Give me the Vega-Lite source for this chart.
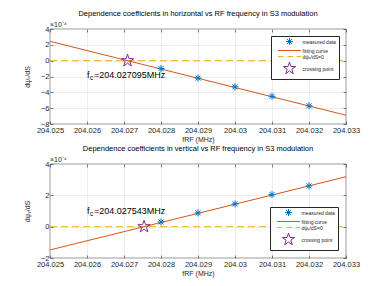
{
  "$schema": "https://vega.github.io/schema/vega-lite/v6.json",
  "background": "white",
  "padding": {"left": 23, "top": 9, "right": 5, "bottom": 5},
  "spacing": 40,
  "bounds": "flush",
  "config": {
    "font": "Liberation Sans",
    "view": {"stroke": "#262626", "strokeWidth": 0.6},
    "axis": {
      "labelFontSize": 7.5,
      "labelColor": "#262626",
      "labelFlush": false,
      "labelOverlap": false,
      "titleFontSize": 7,
      "titleFontWeight": "normal",
      "titleColor": "#262626",
      "gridColor": "#e3e3e3",
      "gridWidth": 0.6,
      "domain": false,
      "tickColor": "#262626",
      "tickWidth": 0.6,
      "tickSize": -3,
      "labelPadding": 4
    },
    "title": {"fontSize": 7.5, "fontWeight": "normal", "color": "#000000", "offset": 4},
    "legend": {
      "labelFontSize": 5,
      "labelColor": "#262626",
      "fillColor": "white",
      "strokeColor": "#262626",
      "padding": 2.5,
      "rowPadding": 0,
      "symbolStrokeWidth": 1,
      "symbolSize": 25,
      "symbolOffset": 13,
      "labelOffset": 10
    }
  },
  "vconcat": [
    {
      "width": 296,
      "height": 95,
      "title": {"text": "Dependence coefficients in horizontal vs RF frequency in S3 modulation"},
      "resolve": {"axis": {"x": "independent", "y": "independent"}},
      "encoding": {
        "x": {"field": "f", "type": "quantitative", "scale": {"domain": [204.025, 204.033], "nice": false, "zero": false}, "axis": null},
        "y": {"field": "v", "type": "quantitative", "scale": {"domain": [-8, 4], "nice": false, "zero": false}, "axis": null}
      },
      "layer": [
        {
          "data": {"values": [{"f": 204.025, "v": 0}, {"f": 204.033, "v": 0}]},
          "mark": {"type": "line", "color": "#EDB120", "strokeWidth": 1, "strokeDash": [7, 4]},
          "encoding": {
            "x": {"field": "f", "type": "quantitative", "scale": {"domain": [204.025, 204.033], "nice": false, "zero": false},
              "axis": {"title": "fRF (MHz)", "values": [204.025, 204.026, 204.027, 204.028, 204.029, 204.03, 204.031, 204.032, 204.033], "format": ".3~f", "labelPadding": 5.5, "titlePadding": 1}},
            "y": {"field": "v", "type": "quantitative", "scale": {"domain": [-8, 4], "nice": false, "zero": false},
              "axis": {"title": "dψₓ/dS", "values": [-8, -6, -4, -2, 0, 2, 4], "titlePadding": 9.5}}
          }
        },
        {
          "data": {"values": [{"f": 204.025, "v": 2.445}, {"f": 204.033, "v": -6.891}]},
          "mark": {"type": "line", "color": "#D95319", "strokeWidth": 1},
          "encoding": {
            "x": {"field": "f", "type": "quantitative", "scale": {"domain": [204.025, 204.033], "nice": false, "zero": false},
              "axis": {"orient": "top", "title": null, "labels": false, "grid": false, "values": [204.025, 204.026, 204.027, 204.028, 204.029, 204.03, 204.031, 204.032, 204.033]}},
            "y": {"field": "v", "type": "quantitative", "scale": {"domain": [-8, 4], "nice": false, "zero": false},
              "axis": {"orient": "right", "title": null, "labels": false, "grid": false, "values": [-8, -6, -4, -2, 0, 2, 4]}}
          }
        },
        {
          "data": {"values": [
            {"f": 204.028, "v": -1.0, "series": "a"},
            {"f": 204.029, "v": -2.2, "series": "a"},
            {"f": 204.030, "v": -3.3, "series": "a"},
            {"f": 204.031, "v": -4.5, "series": "a"},
            {"f": 204.032, "v": -5.7, "series": "a"},
            {"f": 204.027095, "v": 0, "series": "d"}
          ]},
          "mark": {"type": "point", "filled": false, "strokeWidth": 1, "opacity": 1, "size": 25},
          "encoding": {
            "color": {
              "field": "series", "type": "nominal",
              "scale": {"domain": ["a", "b", "c", "d"], "range": ["#0072BD", "#D95319", "#EDB120", "#7E2F8E"]},
              "legend": {"title": null, "orient": "top-right", "offset": 7,
                "labelExpr": "{'a': 'measured data', 'b': 'fitting curve', 'c': 'dψₓ/dS=0', 'd': 'crossing point'}[datum.label]"}
            },
            "shape": {
              "field": "series", "type": "nominal",
              "scale": {"domain": ["a", "b", "c", "d"], "range": [
                "M-1.4,0L1.4,0M0,-1.4L0,1.4M-1,-1L1,1M-1,1L1,-1",
                "M-4.6,0L4.6,0",
                "M-4.6,0L-2.4,0M-0.8,0L1.4,0M2.9,0L4.6,0",
                "M0,-2.6L0.584,-0.803L2.473,-0.803L0.944,0.307L1.528,2.103L0,0.993L-1.528,2.103L-0.944,0.307L-2.473,-0.803L-0.584,-0.803Z"
              ]},
              "legend": {"title": null, "orient": "top-right", "offset": 7,
                "labelExpr": "{'a': 'measured data', 'b': 'fitting curve', 'c': 'dψₓ/dS=0', 'd': 'crossing point'}[datum.label]"}
            }
          }
        },
        {
          "data": {"values": [{"f": 204.025, "v": 4, "t": "×10⁻⁴"}]},
          "mark": {"type": "text", "align": "left", "baseline": "bottom", "dy": -1, "fontSize": 7, "color": "#262626"},
          "encoding": {"text": {"field": "t"}}
        },
        {
          "data": {"values": [{"f": 204.026, "v": -1.8, "t": "f"}]},
          "mark": {"type": "text", "align": "left", "baseline": "middle", "fontSize": 9, "color": "#000000"},
          "encoding": {"text": {"field": "t"}}
        },
        {
          "data": {"values": [{"f": 204.026, "v": -1.8, "t": "c"}]},
          "mark": {"type": "text", "align": "left", "baseline": "middle", "fontSize": 6.5, "dx": 3, "dy": 3, "color": "#000000"},
          "encoding": {"text": {"field": "t"}}
        },
        {
          "data": {"values": [{"f": 204.026, "v": -1.8, "t": "=204.027095MHz"}]},
          "mark": {"type": "text", "align": "left", "baseline": "middle", "fontSize": 9, "dx": 7, "color": "#000000"},
          "encoding": {"text": {"field": "t"}}
        }
      ]
    },
    {
      "width": 296,
      "height": 94,
      "title": {"text": "Dependence coefficients in vertical vs RF frequency in S3 modulation"},
      "resolve": {"axis": {"x": "independent", "y": "independent"}},
      "encoding": {
        "x": {"field": "f", "type": "quantitative", "scale": {"domain": [204.025, 204.033], "nice": false, "zero": false}, "axis": null},
        "y": {"field": "v", "type": "quantitative", "scale": {"domain": [-2, 4], "nice": false, "zero": false}, "axis": null}
      },
      "layer": [
        {
          "data": {"values": [{"f": 204.025, "v": 0}, {"f": 204.033, "v": 0}]},
          "mark": {"type": "line", "color": "#EDB120", "strokeWidth": 1, "strokeDash": [7, 4]},
          "encoding": {
            "x": {"field": "f", "type": "quantitative", "scale": {"domain": [204.025, 204.033], "nice": false, "zero": false},
              "axis": {"title": "fRF (MHz)", "values": [204.025, 204.026, 204.027, 204.028, 204.029, 204.03, 204.031, 204.032, 204.033], "format": ".3~f", "labelPadding": 5.5, "titlePadding": 1}},
            "y": {"field": "v", "type": "quantitative", "scale": {"domain": [-2, 4], "nice": false, "zero": false},
              "axis": {"title": "dψᵧ/dS", "values": [-2, 0, 2, 4], "titlePadding": 9.5}}
          }
        },
        {
          "data": {"values": [{"f": 204.025, "v": -1.485}, {"f": 204.033, "v": 3.187}]},
          "mark": {"type": "line", "color": "#D95319", "strokeWidth": 1},
          "encoding": {
            "x": {"field": "f", "type": "quantitative", "scale": {"domain": [204.025, 204.033], "nice": false, "zero": false},
              "axis": {"orient": "top", "title": null, "labels": false, "grid": false, "values": [204.025, 204.026, 204.027, 204.028, 204.029, 204.03, 204.031, 204.032, 204.033]}},
            "y": {"field": "v", "type": "quantitative", "scale": {"domain": [-2, 4], "nice": false, "zero": false},
              "axis": {"orient": "right", "title": null, "labels": false, "grid": false, "values": [-2, 0, 2, 4]}}
          }
        },
        {
          "data": {"values": [
            {"f": 204.028, "v": 0.3, "series": "a"},
            {"f": 204.029, "v": 0.88, "series": "a"},
            {"f": 204.030, "v": 1.45, "series": "a"},
            {"f": 204.031, "v": 2.05, "series": "a"},
            {"f": 204.032, "v": 2.6, "series": "a"},
            {"f": 204.027543, "v": 0, "series": "d"}
          ]},
          "mark": {"type": "point", "filled": false, "strokeWidth": 1, "opacity": 1, "size": 25},
          "encoding": {
            "color": {
              "field": "series", "type": "nominal",
              "scale": {"domain": ["a", "b", "c", "d"], "range": ["#0072BD", "#D95319", "#EDB120", "#7E2F8E"]},
              "legend": {"title": null, "orient": "bottom-right", "offset": 8,
                "labelExpr": "{'a': 'measured data', 'b': 'fitting curve', 'c': 'dψᵧ/dS=0', 'd': 'crossing point'}[datum.label]"}
            },
            "shape": {
              "field": "series", "type": "nominal",
              "scale": {"domain": ["a", "b", "c", "d"], "range": [
                "M-1.4,0L1.4,0M0,-1.4L0,1.4M-1,-1L1,1M-1,1L1,-1",
                "M-4.6,0L4.6,0",
                "M-4.6,0L-2.4,0M-0.8,0L1.4,0M2.9,0L4.6,0",
                "M0,-2.6L0.584,-0.803L2.473,-0.803L0.944,0.307L1.528,2.103L0,0.993L-1.528,2.103L-0.944,0.307L-2.473,-0.803L-0.584,-0.803Z"
              ]},
              "legend": {"title": null, "orient": "bottom-right", "offset": 8,
                "labelExpr": "{'a': 'measured data', 'b': 'fitting curve', 'c': 'dψᵧ/dS=0', 'd': 'crossing point'}[datum.label]"}
            }
          }
        },
        {
          "data": {"values": [{"f": 204.025, "v": 4, "t": "×10⁻⁴"}]},
          "mark": {"type": "text", "align": "left", "baseline": "bottom", "dy": -1, "fontSize": 7, "color": "#262626"},
          "encoding": {"text": {"field": "t"}}
        },
        {
          "data": {"values": [{"f": 204.026, "v": 1.0, "t": "f"}]},
          "mark": {"type": "text", "align": "left", "baseline": "middle", "fontSize": 9, "color": "#000000"},
          "encoding": {"text": {"field": "t"}}
        },
        {
          "data": {"values": [{"f": 204.026, "v": 1.0, "t": "c"}]},
          "mark": {"type": "text", "align": "left", "baseline": "middle", "fontSize": 6.5, "dx": 3, "dy": 3, "color": "#000000"},
          "encoding": {"text": {"field": "t"}}
        },
        {
          "data": {"values": [{"f": 204.026, "v": 1.0, "t": "=204.027543MHz"}]},
          "mark": {"type": "text", "align": "left", "baseline": "middle", "fontSize": 9, "dx": 7, "color": "#000000"},
          "encoding": {"text": {"field": "t"}}
        }
      ]
    }
  ]
}
